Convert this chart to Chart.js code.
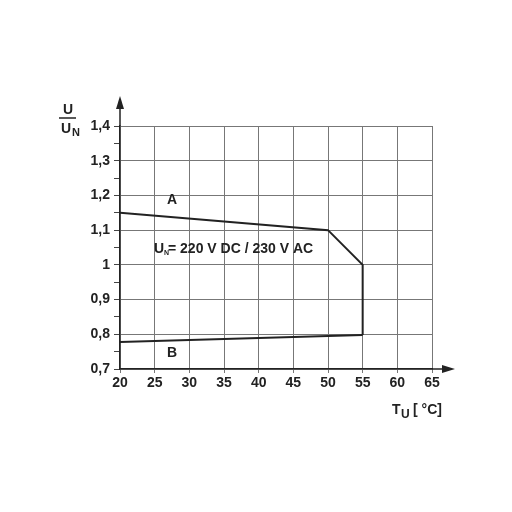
<!DOCTYPE html>
<html>
<head>
<meta charset="utf-8">
<script src="https://cdn.jsdelivr.net/npm/chart.js@4"></script>
<style>
  html, body { margin: 0; padding: 0; background: #fff; }
  #wrap { width: 512px; height: 512px; }
</style>
</head>
<body>
<div id="wrap"><canvas id="derating-chart" width="512" height="512"></canvas></div>
<script>
  // curve A (upper limit) runs down the right side into curve B
  const tempA = [20, 50, 55, 55];
  const voltA = [1.15, 1.10, 1.00, 0.798];
  const tempB = [55, 20];
  const voltB = [0.798, 0.778];
  const xTicks = [20, 25, 30, 35, 40, 45, 50, 55, 60, 65];
  const yTicks = [0.7, 0.8, 0.9, 1.0, 1.1, 1.2, 1.3, 1.4];

  const FONT = '"Liberation Sans", Arial, sans-serif';

  function toPoints(xs, ys) {
    return xs.map((x, i) => ({ x: x, y: ys[i] }));
  }

  function isMajor(v) {
    return Math.abs(Math.round(v * 10) - v * 10) < 0.001;
  }

  // arrows + free text that sit outside the scales
  const extras = {
    id: 'extras',
    afterDraw(chart) {
      const ctx = chart.ctx;
      const a = chart.chartArea;
      const xs = chart.scales.x;
      const ys = chart.scales.y;
      ctx.save();
      ctx.strokeStyle = '#222';
      ctx.fillStyle = '#222';
      ctx.lineWidth = 1.5;

      // y axis arrow
      ctx.beginPath();
      ctx.moveTo(a.left, a.top);
      ctx.lineTo(a.left, 105);
      ctx.stroke();
      ctx.beginPath();
      ctx.moveTo(a.left, 96);
      ctx.lineTo(a.left - 4, 109);
      ctx.lineTo(a.left + 4, 109);
      ctx.closePath();
      ctx.fill();

      // x axis arrow
      ctx.beginPath();
      ctx.moveTo(a.right, a.bottom);
      ctx.lineTo(445, a.bottom);
      ctx.stroke();
      ctx.beginPath();
      ctx.moveTo(455, a.bottom);
      ctx.lineTo(442, a.bottom - 4);
      ctx.lineTo(442, a.bottom + 4);
      ctx.closePath();
      ctx.fill();

      // y label U / U_N
      ctx.font = 'bold 14px ' + FONT;
      ctx.textAlign = 'center';
      ctx.textBaseline = 'alphabetic';
      ctx.fillText('U', 68, 114);
      ctx.lineWidth = 1.5;
      ctx.beginPath();
      ctx.moveTo(59, 118);
      ctx.lineTo(76, 118);
      ctx.stroke();
      ctx.textAlign = 'left';
      ctx.fillText('U', 61, 133);
      ctx.font = 'bold 11px ' + FONT;
      ctx.fillText('N', 72, 136);

      // x label T_U [ °C]
      ctx.font = 'bold 14px ' + FONT;
      ctx.fillText('T', 392, 414);
      ctx.font = 'bold 12px ' + FONT;
      ctx.fillText('U', 401, 418);
      ctx.font = 'bold 14px ' + FONT;
      ctx.fillText('[ \u00B0C]', 413, 414);

      // curve labels
      ctx.font = 'bold 14px ' + FONT;
      ctx.textAlign = 'center';
      ctx.fillText('A', xs.getPixelForValue(27.5), ys.getPixelForValue(1.175));
      ctx.fillText('B', xs.getPixelForValue(27.5), ys.getPixelForValue(0.735));

      // rated voltage note
      ctx.textAlign = 'left';
      ctx.font = 'bold 14px ' + FONT;
      ctx.fillText('U', 154, 253);
      ctx.font = 'bold 7px ' + FONT;
      ctx.fillText('N', 164, 255);
      ctx.font = 'bold 14px ' + FONT;
      ctx.fillText('= 220 V DC / 230 V AC', 168, 253);
      ctx.restore();
    }
  };

  const ctx = document.getElementById('derating-chart').getContext('2d');
  new Chart(ctx, {
    type: 'scatter',
    data: {
      datasets: [
        {
          label: 'A',
          data: toPoints(tempA, voltA),
          showLine: true,
          borderColor: '#222',
          borderWidth: 2,
          pointRadius: 0,
          tension: 0
        },
        {
          label: 'B',
          data: toPoints(tempB, voltB),
          showLine: true,
          borderColor: '#222',
          borderWidth: 2,
          pointRadius: 0,
          tension: 0
        }
      ]
    },
    options: {
      responsive: false,
      animation: false,
      layout: { padding: { top: 126, right: 80, left: 0, bottom: 0 } },
      plugins: {
        legend: { display: false },
        tooltip: { enabled: false }
      },
      scales: {
        x: {
          type: 'linear',
          min: 20,
          max: 65,
          afterFit(scale) { scale.height = 143; },
          afterBuildTicks(scale) { scale.ticks = xTicks.map(v => ({ value: v })); },
          grid: {
            color: '#777',
            lineWidth: 1,
            tickLength: 4,
            tickColor: '#777'
          },
          border: { color: '#222', width: 1.5 },
          ticks: {
            color: '#222',
            padding: 2,
            autoSkip: false,
            maxRotation: 0,
            font: { family: FONT, size: 14, weight: 'bold' }
          }
        },
        y: {
          type: 'linear',
          min: 0.7,
          max: 1.4,
          afterFit(scale) { scale.width = 120; },
          afterBuildTicks(scale) {
            const t = [];
            yTicks.forEach((v, i) => {
              t.push({ value: v });
              if (i < yTicks.length - 1) t.push({ value: v + 0.05 });
            });
            scale.ticks = t;
          },
          grid: {
            color: c => isMajor(c.tick.value) ? '#777' : 'rgba(0,0,0,0)',
            tickColor: '#444',
            lineWidth: 1,
            tickLength: 6
          },
          border: { color: '#222', width: 1.5 },
          ticks: {
            color: '#222',
            padding: 4,
            autoSkip: false,
            font: { family: FONT, size: 14, weight: 'bold' },
            callback: v => isMajor(v) ? (Math.round(v * 10) === 10 ? '1' : v.toFixed(1).replace('.', ',')) : ''
          }
        }
      }
    },
    plugins: [extras]
  });
</script>
</body>
</html>
